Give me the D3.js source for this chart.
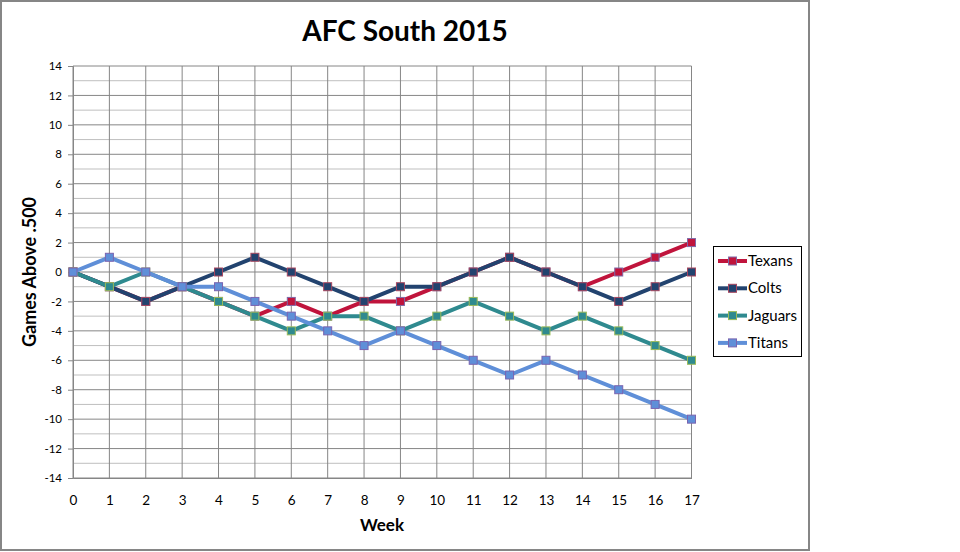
<!DOCTYPE html>
<html>
<head>
<meta charset="utf-8">
<script src="https://cdn.jsdelivr.net/npm/d3@7"></script>
<style>
  body { margin: 0; background: #fff; }
  svg { font-family: Lato, "Open Sans", sans-serif; }
</style>
</head>
<body>
<svg id="chart" width="960" height="552"></svg>
<script>
// data: games above .500 after each week
const weeks = d3.range(0, 18);
const texans  = [0, -1, -2, -1, -2, -3, -2, -3, -2, -2, -1, 0, 1, 0, -1, 0, 1, 2];
const colts   = [0, -1, -2, -1, 0, 1, 0, -1, -2, -1, -1, 0, 1, 0, -1, -2, -1, 0];
const jaguars = [0, -1, 0, -1, -2, -3, -4, -3, -3, -4, -3, -2, -3, -4, -3, -4, -5, -6];
const titans  = [0, 1, 0, -1, -1, -2, -3, -4, -5, -4, -5, -6, -7, -6, -7, -8, -9, -10];
const teamNames = ['Texans', 'Colts', 'Jaguars', 'Titans'];
const yTicks = d3.range(-14, 15, 2);

const series = [
    { name: teamNames[0], values: texans,  color: '#C0143C', edge: '#7F6AA8' },
    { name: teamNames[1], values: colts,   color: '#22436F', edge: '#A8475F' },
    { name: teamNames[2], values: jaguars, color: '#2F8A8F', edge: '#9BBB59' },
    { name: teamNames[3], values: titans,  color: '#5F8FD8', edge: '#7A64B0' }
];

const svg = d3.select('#chart');
const plot = { left: 73, right: 691.5, top: 66, bottom: 478 };

const x = d3.scaleLinear().domain([0, 17]).range([plot.left, plot.right]);
const y = d3.scaleLinear().domain([-14, 14]).range([plot.bottom, plot.top]);

// outer chart border
svg.append('rect')
    .attr('x', 1).attr('y', 1)
    .attr('width', 808).attr('height', 549)
    .attr('fill', '#fff')
    .attr('stroke', '#868686')
    .attr('stroke-width', 2);

// title
svg.append('text')
    .attr('x', 405).attr('y', 41)
    .attr('text-anchor', 'middle')
    .style('font-size', '28px')
    .style('font-weight', 'bold')
    .text('AFC South 2015');

// minor gridlines (odd values)
svg.append('g').selectAll('line')
    .data(d3.range(-13, 14, 2))
    .join('line')
    .attr('x1', plot.left).attr('x2', plot.right)
    .attr('y1', d => y(d)).attr('y2', d => y(d))
    .attr('stroke', '#BFBFBF').attr('stroke-width', 1);

// major gridlines
svg.append('g').selectAll('line')
    .data(yTicks)
    .join('line')
    .attr('x1', plot.left).attr('x2', plot.right)
    .attr('y1', d => y(d)).attr('y2', d => y(d))
    .attr('stroke', '#868686').attr('stroke-width', 1);

// vertical gridlines
svg.append('g').selectAll('line')
    .data(weeks)
    .join('line')
    .attr('x1', d => x(d)).attr('x2', d => x(d))
    .attr('y1', plot.top).attr('y2', plot.bottom)
    .attr('stroke', '#868686').attr('stroke-width', 1);

// y axis (plain hyphen for negatives, like Excel)
const yAxis = svg.append('g')
    .attr('transform', `translate(${plot.left},0)`)
    .call(d3.axisLeft(y).tickValues(yTicks).tickSize(5).tickPadding(6).tickFormat(d => String(d)));
yAxis.select('.domain').attr('stroke', '#868686');
yAxis.selectAll('.tick line').attr('stroke', '#868686');
yAxis.selectAll('.tick text')
    .style('font-size', '11.5px')
    .style('font-family', 'Lato, sans-serif')
    .attr('fill', '#000');

// x axis
const xAxis = svg.append('g')
    .attr('transform', `translate(0,${plot.bottom})`)
    .call(d3.axisBottom(x).tickValues(weeks).tickSize(0).tickPadding(17).tickFormat(d => String(d)));
xAxis.select('.domain').attr('stroke', '#868686');
xAxis.selectAll('.tick text')
    .style('font-size', '13.5px')
    .style('font-family', 'Lato, sans-serif')
    .attr('fill', '#000');

// axis titles
svg.append('text')
    .attr('transform', `translate(36,${(plot.top + plot.bottom) / 2}) rotate(-90)`)
    .attr('text-anchor', 'middle')
    .style('font-size', '18px')
    .style('font-weight', 'bold')
    .text('Games Above .500');

svg.append('text')
    .attr('x', 382)
    .attr('y', 531)
    .attr('text-anchor', 'middle')
    .style('font-size', '17px')
    .style('font-weight', 'bold')
    .text('Week');

// series lines + square markers
const line = d3.line()
    .x((d, i) => x(weeks[i]))
    .y(d => y(d));

const m = 8;
series.forEach(s => {
    const g = svg.append('g');
    g.append('path')
        .datum(s.values)
        .attr('d', line)
        .attr('fill', 'none')
        .attr('stroke', s.color)
        .attr('stroke-width', 4)
        .attr('stroke-linejoin', 'round');
    g.selectAll('rect')
        .data(s.values)
        .join('rect')
        .attr('x', (d, i) => x(weeks[i]) - m / 2)
        .attr('y', d => y(d) - m / 2)
        .attr('width', m).attr('height', m)
        .attr('fill', s.color)
        .attr('stroke', s.edge)
        .attr('stroke-width', 1);
});

// legend
const legend = svg.append('g');
legend.append('rect')
    .attr('x', 713.5).attr('y', 246.5)
    .attr('width', 88).attr('height', 110)
    .attr('fill', '#fff')
    .attr('stroke', '#000')
    .attr('stroke-width', 1);

series.forEach((s, i) => {
    const cy = 261 + i * 27.3;
    legend.append('line')
        .attr('x1', 718).attr('x2', 747)
        .attr('y1', cy).attr('y2', cy)
        .attr('stroke', s.color)
        .attr('stroke-width', 4);
    legend.append('rect')
        .attr('x', 732.5 - m / 2).attr('y', cy - m / 2)
        .attr('width', m).attr('height', m)
        .attr('fill', s.color)
        .attr('stroke', s.edge);
    legend.append('text')
        .attr('x', 748).attr('y', cy + 5)
        .style('font-size', '15px')
        .text(s.name);
});
</script>
</body>
</html>
